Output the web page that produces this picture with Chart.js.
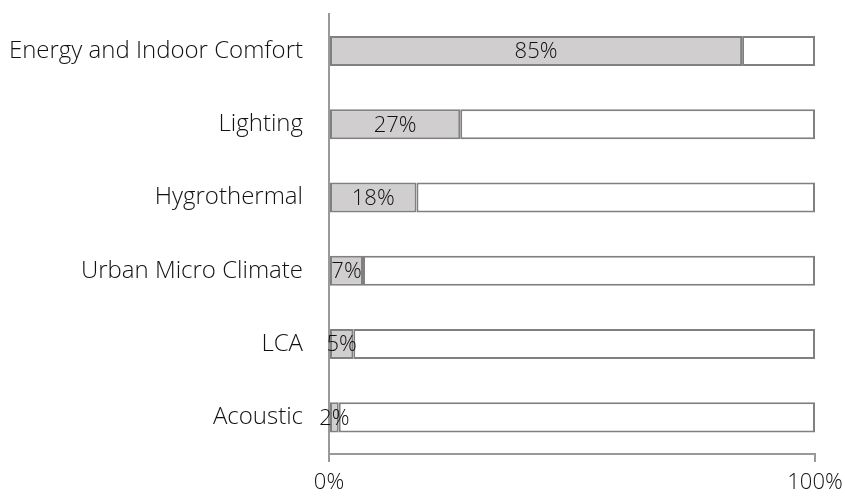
<!DOCTYPE html>
<html>
<head>
<meta charset="utf-8">
<script src="https://cdn.jsdelivr.net/npm/chart.js@4/dist/chart.umd.min.js"></script>
<style>
  html, body { margin: 0; padding: 0; background: #fff; }
  #wrap { width: 845px; height: 496px; }
</style>
</head>
<body>
<div id="wrap"><canvas id="topicChart"></canvas></div>
<script>
// topics and share of papers (%)
var topics = ['Energy and Indoor Comfort', 'Lighting', 'Hygrothermal', 'Urban Micro Climate', 'LCA', 'Acoustic'];
var shares = [85, 27, 18, 7, 5, 2];
var axisTicks = [0, 100];

var rest = shares.map(function(v) { return 100 - v; });
var fontFamily = "'Open Sans', 'DejaVu Sans', sans-serif";

// prints the percentage in the middle of each grey bar
var shareLabels = {
  id: 'shareLabels',
  afterDatasetsDraw: function(chart) {
    var ctx = chart.ctx;
    var meta = chart.getDatasetMeta(0);
    ctx.save();
    ctx.font = '300 22px ' + fontFamily;
    ctx.fillStyle = '#111';
    ctx.textAlign = 'center';
    ctx.textBaseline = 'middle';
    meta.data.forEach(function(bar, i) {
      var x = (bar.x + bar.base) / 2;
      ctx.fillText(shares[i] + '%', x, bar.y + 1);
    });
    ctx.restore();
  }
};

new Chart(document.getElementById('topicChart'), {
  type: 'bar',
  data: {
    labels: topics,
    datasets: [{
      data: shares,
      backgroundColor: '#d0cece',
      borderColor: '#808080',
      borderWidth: 2,
      borderSkipped: false,
      barPercentage: 0.41,
      categoryPercentage: 1
    }, {
      data: rest,
      backgroundColor: '#ffffff',
      borderColor: '#808080',
      borderWidth: 2,
      borderSkipped: false,
      barPercentage: 0.41,
      categoryPercentage: 1
    }]
  },
  options: {
    indexAxis: 'y',
    responsive: true,
    maintainAspectRatio: false,
    animation: false,
    layout: { padding: { top: 14, right: 0, bottom: 0, left: 0 } },
    plugins: {
      legend: { display: false },
      tooltip: { enabled: false }
    },
    scales: {
      x: {
        stacked: true,
        min: 0,
        max: 100,
        afterBuildTicks: function(scale) {
          scale.ticks = axisTicks.map(function(v) { return { value: v }; });
        },
        afterFit: function(scale) {
          scale.height = 42;
          scale.paddingRight = 30;
        },
        grid: { drawOnChartArea: false, drawTicks: true, tickLength: 8, color: '#999', lineWidth: 2 },
        border: { display: true, color: '#999', width: 2 },
        ticks: {
          padding: 8,
          color: '#111',
          font: { family: fontFamily, size: 22, weight: 300 },
          maxRotation: 0,
          callback: function(v) { return v + '%'; }
        }
      },
      y: {
        stacked: true,
        afterFit: function(scale) { scale.width = 329; },
        // invisible tick marks keep the labels clear of the axis line
        grid: { drawOnChartArea: false, drawTicks: true, tickLength: 26, color: 'rgba(0,0,0,0)' },
        border: { display: true, color: '#999', width: 2 },
        ticks: {
          padding: 0,
          color: '#111',
          font: { family: fontFamily, size: 24, weight: 300 }
        }
      }
    }
  },
  plugins: [shareLabels]
});
</script>
</body>
</html>
